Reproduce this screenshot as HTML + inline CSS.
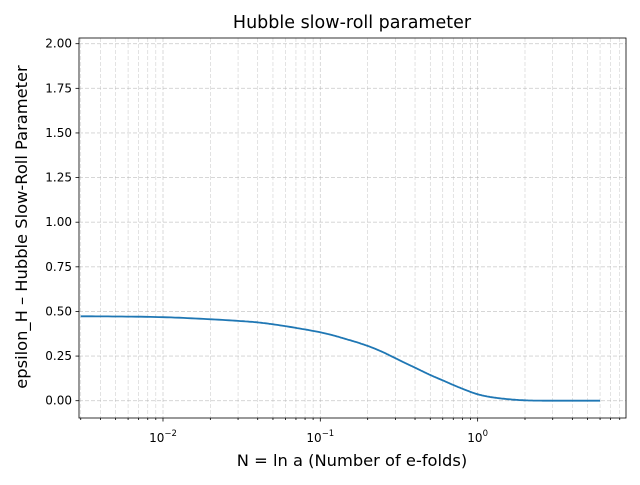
<!DOCTYPE html>
<html><head><meta charset="utf-8"><style>
body{margin:0;background:#fff;font-family:"Liberation Sans","DejaVu Sans",sans-serif}
svg text{font-family:"DejaVu Sans","Liberation Sans",sans-serif}
</style></head><body>
<svg id="chart" width="640" height="480" xmlns="http://www.w3.org/2000/svg">
<rect width="640" height="480" fill="#fff"/>
<g id="grid"></g><g id="ticks"></g>
<polyline id="line" fill="none" stroke="#1f77b4" stroke-width="1.8" stroke-linejoin="round"/>
<rect x="79" y="38" width="547" height="380" fill="none" stroke="#000" stroke-width="0.8"/>
<text x="352" y="28" font-size="17.5" text-anchor="middle">Hubble slow-roll parameter</text>
<text x="352" y="466" font-size="16.3" text-anchor="middle">N = ln a (Number of e-folds)</text>
<text transform="translate(27,227) rotate(-90)" font-size="16.3" text-anchor="middle">epsilon_H – Hubble Slow-Roll Parameter</text>
</svg>
<script>
const xVals=[0.003,0.01,0.03,0.05,0.1,0.15,0.2,0.25,0.3,0.4,0.5,0.6,0.7,0.85,1.0,1.2,1.5,2.0,3.0,6.0];
const yVals=[0.473,0.468,0.447,0.428,0.383,0.342,0.307,0.272,0.238,0.185,0.144,0.114,0.088,0.058,0.036,0.021,0.010,0.002,0.0,0.0];
const yTicks=[0,0.25,0.5,0.75,1.0,1.25,1.5,1.75,2.0];
const xMajor=[-2,-1,0];
const L=79,R=626,T=38,B=418;
const lx0=Math.log10(0.002925),lx1=Math.log10(8.77);
const X=v=>L+(Math.log10(v)-lx0)/(lx1-lx0)*(R-L);
const Y=v=>400.7-v*178.5;
const ns="http://www.w3.org/2000/svg";
const grid=document.getElementById('grid'),tk=document.getElementById('ticks');
function mk(tag,attrs,par){const e=document.createElementNS(ns,tag);for(const k in attrs)e.setAttribute(k,attrs[k]);par.appendChild(e);return e;}
for(let d=-3;d<=0;d++)for(let m=1;m<=9;m++){const v=m*Math.pow(10,d);const x=X(v);if(x<L||x>R)continue;
 const g=mk('line',{x1:x,x2:x,y1:T,y2:B,stroke:'#b0b0b0','stroke-width':m==1?0.8:0.6,'stroke-dasharray':'4,2','stroke-opacity':0.6},grid);
 
 
 const t=mk('line',{x1:x,x2:x,y1:B,y2:B+(m==1?3.5:2),stroke:'#000','stroke-width':0.8},tk);
 
 }
xMajor.forEach(p=>{const x=X(Math.pow(10,p));
 const t=mk('text',{x:x,y:442,'font-size':12,'text-anchor':'middle'},tk);
 
 
 t.innerHTML='10<tspan dy="-6" font-size="8.5">'+(p<0?'−'+(-p):p)+'</tspan>';});
yTicks.forEach(v=>{const y=Y(v);
 const g=mk('line',{x1:L,x2:R,y1:y,y2:y,stroke:'#b0b0b0','stroke-width':0.8,'stroke-dasharray':'4,2','stroke-opacity':0.6},grid);
 
 
 mk('line',{x1:L-3.5,x2:L,y1:y,y2:y,stroke:'#000','stroke-width':0.8},tk);
 const t=mk('text',{x:L-7,y:y+4,'font-size':12,'text-anchor':'end'},tk);
 
 
 t.textContent=v.toFixed(2);});
const px=xVals.map(X),py=yVals.map(Y);const pts=[];
for(let i=0;i<px.length-1;i++){const p0=i?i-1:i,p3=i+2<px.length?i+2:i+1;
 for(let s=0;s<20;s++){const t=s/20,t2=t*t,t3=t2*t;
  const f=(a,b,c,d)=>0.5*((2*b)+(-a+c)*t+(2*a-5*b+4*c-d)*t2+(-a+3*b-3*c+d)*t3);
  let yy=f(py[p0],py[i],py[i+1],py[p3]);yy=Math.min(yy,Y(0));
  pts.push(f(px[p0],px[i],px[i+1],px[p3]).toFixed(1)+','+yy.toFixed(1));}}
pts.push(px[px.length-1]+','+py[py.length-1]);
document.getElementById('line').setAttribute('points',pts.join(' '));
</script>
</body></html>
